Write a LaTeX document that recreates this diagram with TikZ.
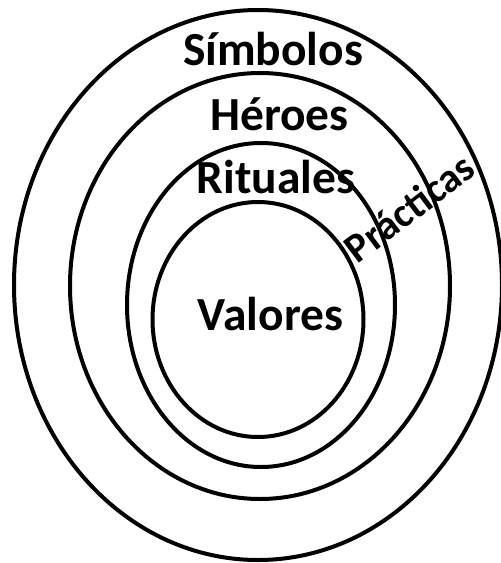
\documentclass[tikz,border=0pt]{standalone}
\usepackage{fontspec}
\setmainfont{Carlito}
\tikzset{
  ring/.style={draw=black, line width=4pt},
  lbl/.style={font=\bfseries\fontsize{47.5}{50}\selectfont, inner sep=0pt, anchor=base},
  smalllbl/.style={font=\bfseries\fontsize{41}{44}\selectfont, inner sep=0pt, anchor=base}
}
\begin{document}
\begin{tikzpicture}[x=1pt,y=-1pt]
\useasboundingbox (0,0) rectangle (501,563);
\clip (0,0) rectangle (501,563);
\draw[ring] (258,285) ellipse [x radius=244, y radius=275];
\draw[ring] (260,286) ellipse [x radius=190, y radius=213];
\draw[ring] (261,305) ellipse [x radius=134, y radius=162];
\draw[ring] (258,319.5) ellipse [x radius=105.5, y radius=117.5];
\node[lbl] (simbolos) at (273,65) {Símbolos};
\node[lbl] (heroes) at (279.5,130) {Héroes};
\node[lbl] (rituales) at (276,193) {Rituales};
\node[lbl] (valores) at (270.5,330) {Valores};
\node[smalllbl, rotate=37] (practicas) at (418,219) {Prácticas};
\end{tikzpicture}
\end{document}
